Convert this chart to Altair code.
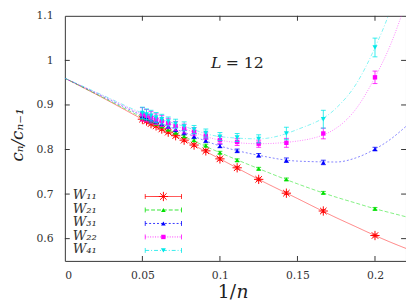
import altair as alt
import pandas as pd

# ---------------- data ----------------
n_values = [20, 19, 18, 17, 16, 15, 14, 13, 12, 11, 10, 9, 8, 7, 6, 5]

series_keys = ["W11", "W21", "W31", "W22", "W41"]
series_labels = ["W\u2081\u2081", "W\u2082\u2081", "W\u2083\u2081", "W\u2082\u2082", "W\u2084\u2081"]

w11 = [0.868, 0.864, 0.858, 0.853, 0.846, 0.839, 0.831, 0.821, 0.810, 0.797, 0.779, 0.759, 0.733, 0.702, 0.662, 0.607]
w21 = [0.872, 0.868, 0.863, 0.858, 0.852, 0.845, 0.838, 0.830, 0.821, 0.809, 0.793, 0.776, 0.757, 0.733, 0.703, 0.667]
w31 = [0.876, 0.872, 0.868, 0.864, 0.858, 0.852, 0.845, 0.838, 0.830, 0.820, 0.808, 0.797, 0.787, 0.776, 0.771, 0.801]
w22 = [0.879, 0.876, 0.872, 0.868, 0.864, 0.859, 0.853, 0.847, 0.840, 0.831, 0.821, 0.817, 0.813, 0.815, 0.836, 0.962]
w41 = [0.882, 0.879, 0.876, 0.872, 0.868, 0.863, 0.858, 0.852, 0.845, 0.837, 0.829, 0.827, 0.824, 0.836, 0.868, 1.029]

e11 = [0.003] * 16
e21 = [0.003] * 16
e31 = [0.006, 0.006, 0.006, 0.005, 0.005, 0.005, 0.005, 0.005, 0.005, 0.004, 0.004, 0.004, 0.004, 0.005, 0.005, 0.004]
e22 = [0.015, 0.014, 0.013, 0.012, 0.012, 0.011, 0.010, 0.010, 0.009, 0.008, 0.008, 0.008, 0.008, 0.010, 0.012, 0.014]
e41 = [0.013, 0.012, 0.012, 0.011, 0.011, 0.010, 0.010, 0.010, 0.009, 0.009, 0.009, 0.009, 0.009, 0.014, 0.020, 0.021]

fit_x = [0, 0.025, 0.05, 0.075, 0.1, 0.125, 0.15, 0.175, 0.1875, 0.2, 0.21, 0.22]
fit11 = [0.960, 0.915, 0.868, 0.824, 0.779, 0.733, 0.690, 0.647, 0.627, 0.607, 0.592, 0.578]
fit21 = [0.960, 0.916, 0.872, 0.832, 0.793, 0.757, 0.723, 0.693, 0.680, 0.667, 0.658, 0.649]
fit31 = [0.960, 0.918, 0.876, 0.841, 0.808, 0.787, 0.774, 0.772, 0.781, 0.801, 0.823, 0.852]
fit22 = [0.960, 0.920, 0.879, 0.849, 0.821, 0.813, 0.819, 0.848, 0.890, 0.962, 1.035, 1.130]
fit41 = [0.960, 0.921, 0.882, 0.854, 0.829, 0.824, 0.845, 0.893, 0.945, 1.029, 1.115, 1.240]

x_ticks = [0, 0.05, 0.1, 0.15, 0.2]
y_ticks = [0.6, 0.7, 0.8, 0.9, 1.0, 1.1]

# ---------------- styles ----------------
values = [w11, w21, w31, w22, w41]
errors = [e11, e21, e31, e22, e41]
fits = [fit11, fit21, fit31, fit22, fit41]
colors = ["#ff0000", "#00e000", "#0000ff", "#ff00ff", "#00e8e8"]
dashes = [[1, 0], [4, 2], [2, 2], [1, 1.5], [4, 2, 1, 2]]
asterisk = "M-1,0L1,0M0,-1L0,1M-0.7,-0.7L0.7,0.7M-0.7,0.7L0.7,-0.7"
shapes = [asterisk, "triangle-up", "triangle-up", "square", "triangle-down"]
sizes = [90, 22, 22, 20, 26]
filled = [False, True, True, True, True]

TOP = 5
W, H = 348, 263 - 8 - TOP
FONT = "DejaVu Serif"

xs = alt.Scale(domain=[0, 0.22], nice=False, zero=False)
ys = alt.Scale(domain=[0.55, 1.1], nice=False, zero=False)

layers = []

# frame / axes carrier
axis_df = pd.DataFrame({"x": [0.0], "y": [0.55]})
layers.append(
    alt.Chart(axis_df).mark_point(opacity=0).encode(
        x=alt.X("x:Q", scale=xs, axis=alt.Axis(values=x_ticks, format="~g", title=None, labelPadding=9)),
        y=alt.Y("y:Q", scale=ys, axis=alt.Axis(values=y_ticks, format="~g", title=None, labelPadding=12)),
    )
)

# inward ticks (mirrored)
xt = pd.DataFrame({"v": x_ticks[1:]})
yt = pd.DataFrame({"v": y_ticks[:-1]})
tick_col = "#333333"
layers.append(alt.Chart(xt).mark_rule(color=tick_col).encode(x="v:Q", y=alt.value(H), y2=alt.value(H - 5)))
layers.append(alt.Chart(xt).mark_rule(color=tick_col).encode(x="v:Q", y=alt.value(0), y2=alt.value(5)))
layers.append(alt.Chart(yt).mark_rule(color=tick_col).encode(y="v:Q", x=alt.value(0), x2=alt.value(5)))
layers.append(alt.Chart(yt).mark_rule(color=tick_col).encode(y="v:Q", x=alt.value(W - 5), x2=alt.value(W)))

for i, key in enumerate(series_keys):
    c = colors[i]
    fdf = pd.DataFrame({"x": fit_x, "y": fits[i]})
    layers.append(
        alt.Chart(fdf).mark_line(color=c, strokeWidth=0.9, strokeDash=dashes[i], clip=True,
                                 interpolate="monotone", opacity=0.55).encode(x="x:Q", y="y:Q")
    )
    pdf = pd.DataFrame({
        "x": [1.0 / n for n in n_values],
        "y": values[i],
        "lo": [v - e for v, e in zip(values[i], errors[i])],
        "hi": [v + e for v, e in zip(values[i], errors[i])],
    })
    base = alt.Chart(pdf)
    layers.append(base.mark_rule(color=c, strokeWidth=1, opacity=0.8).encode(x="x:Q", y="lo:Q", y2="hi:Q"))
    layers.append(base.mark_tick(color=c, orient="horizontal", size=5, thickness=1, opacity=0.8).encode(x="x:Q", y="lo:Q"))
    layers.append(base.mark_tick(color=c, orient="horizontal", size=5, thickness=1, opacity=0.8).encode(x="x:Q", y="hi:Q"))
    if filled[i]:
        pm = base.mark_point(shape=shapes[i], filled=True, size=sizes[i], color=c, opacity=1)
    else:
        pm = base.mark_point(shape=shapes[i], filled=False, size=sizes[i], color=c, strokeWidth=1, opacity=1)
    layers.append(pm.encode(x="x:Q", y="y:Q"))

    # legend entry (gnuplot style: label left, sample right)
    ly = 197.3 - 8 - TOP + i * 13.75
    one = alt.Chart(pd.DataFrame({"k": [key]}))
    layers.append(one.mark_text(text=series_labels[i], font=FONT, fontSize=13.5, fontStyle="italic",
                                align="left", baseline="middle", color="#333333")
                  .encode(x=alt.value(8), y=alt.value(ly - 1)))
    layers.append(one.mark_rule(color=c, strokeWidth=1, strokeDash=dashes[i], opacity=0.8)
                  .encode(x=alt.value(82), x2=alt.value(119), y=alt.value(ly)))
    layers.append(one.mark_rule(color=c, strokeWidth=1, opacity=0.8)
                  .encode(x=alt.value(82), y=alt.value(ly - 2.5), y2=alt.value(ly + 2.5)))
    layers.append(one.mark_rule(color=c, strokeWidth=1, opacity=0.8)
                  .encode(x=alt.value(119), y=alt.value(ly - 2.5), y2=alt.value(ly + 2.5)))
    if filled[i]:
        lm = one.mark_point(shape=shapes[i], filled=True, size=sizes[i], color=c, opacity=1)
    else:
        lm = one.mark_point(shape=shapes[i], filled=False, size=sizes[i], color=c, strokeWidth=1, opacity=1)
    layers.append(lm.encode(x=alt.value(100.5), y=alt.value(ly)))

# annotation L = 12
ann = alt.Chart(pd.DataFrame({"x": [0.0942], "x2": [0.1037], "y": [0.983]}))
layers.append(ann.mark_text(text="L", font=FONT, fontSize=16, fontStyle="italic", align="left",
                            baseline="alphabetic", color="#222222").encode(x=alt.X("x:Q", scale=xs), y=alt.Y("y:Q", scale=ys)))
layers.append(ann.mark_text(text="= 12", font=FONT, fontSize=16, align="left",
                            baseline="alphabetic", color="#222222").encode(x=alt.X("x2:Q", scale=xs), y=alt.Y("y:Q", scale=ys)))

# axis titles
t = alt.Chart(pd.DataFrame({"k": [0]}))
layers.append(t.mark_text(text="1/", font=FONT, fontSize=19, align="right", baseline="alphabetic",
                          color="#222222").encode(x=alt.value(174.5), y=alt.value(H + 38)))
layers.append(t.mark_text(text="n", font=FONT, fontSize=19, fontStyle="italic", align="left",
                          baseline="alphabetic", color="#222222").encode(x=alt.value(175), y=alt.value(H + 38)))
layers.append(t.mark_text(text="c\u2099/c\u2099\u208b\u2081", font=FONT, fontSize=17, fontStyle="italic",
                          angle=270, align="center", baseline="middle", color="#222222")
              .encode(x=alt.value(-48), y=alt.value(134.5 - 8 - TOP)))

chart = alt.layer(*layers).properties(
    width=W, height=H,
    autosize=alt.AutoSizeParams(type="none"),
    padding={"left": 58, "top": TOP, "right": 0, "bottom": 43},
).configure_view(
    stroke="#333333", strokeWidth=1
).configure_axis(
    labelFont=FONT, labelFontSize=11, labelColor="#333333",
    ticks=False, domain=False, grid=False,
)

chart.save("out.html", embed_options={"renderer": "svg", "actions": False})
